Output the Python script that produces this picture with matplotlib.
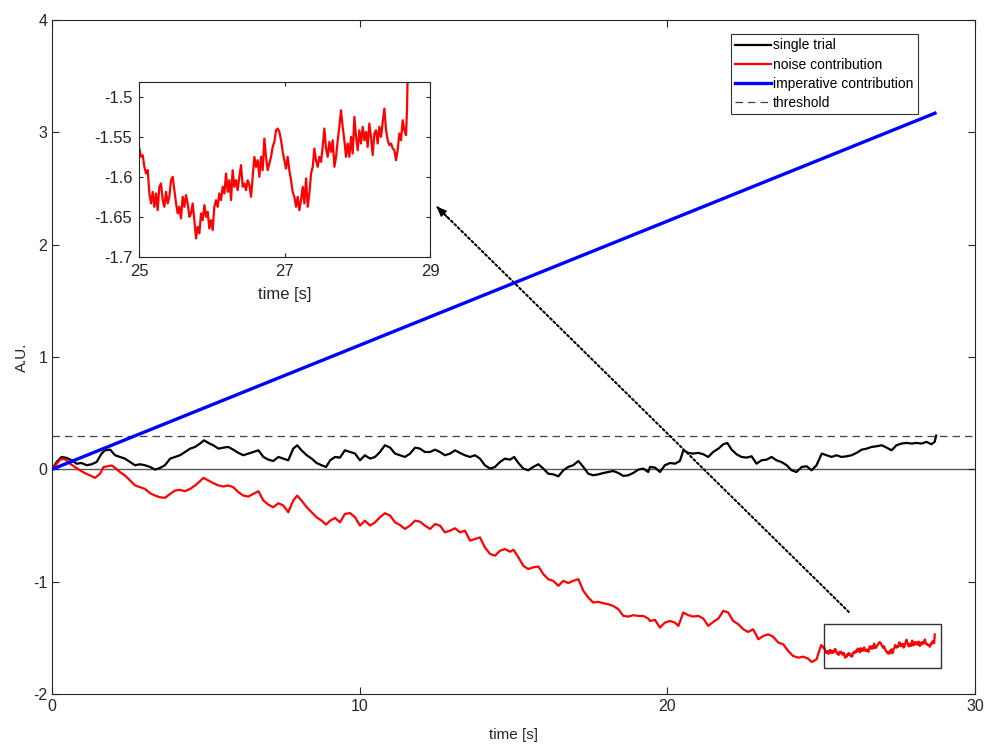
import numpy as np
import matplotlib
matplotlib.use("Agg")
import matplotlib.pyplot as plt
from matplotlib.patches import Rectangle

plt.rcParams['font.family'] = ['Liberation Sans', 'DejaVu Sans']
plt.rcParams['axes.unicode_minus'] = False

# single trial (black)
trial_t = [0.00, 0.15, 0.31, 0.48, 0.64, 0.80, 0.96, 1.13, 1.29, 1.45, 1.61, 1.72, 1.89, 2.05, 2.21,
           2.37, 2.54, 2.70, 2.86, 3.02, 3.19, 3.35, 3.51, 3.67, 3.84, 4.00, 4.16, 4.32, 4.49, 4.65,
           4.81, 4.94, 5.08, 5.24, 5.41, 5.57, 5.73, 5.89, 6.06, 6.22, 6.38, 6.54, 6.71, 6.87, 7.03,
           7.19, 7.36, 7.52, 7.68, 7.84, 7.97, 8.11, 8.28, 8.44, 8.60, 8.76, 8.91, 9.04, 9.20, 9.36,
           9.52, 9.69, 9.85, 10.01, 10.17, 10.34, 10.50, 10.66, 10.82, 10.99, 11.15, 11.31, 11.47,
           11.64, 11.80, 11.96, 12.12, 12.29, 12.45, 12.61, 12.77, 12.94, 13.10, 13.26, 13.42, 13.59,
           13.75, 13.91, 14.07, 14.24, 14.40, 14.56, 14.72, 14.89, 15.02, 15.16, 15.32, 15.48, 15.64,
           15.81, 15.97, 16.13, 16.29, 16.46, 16.62, 16.78, 16.94, 17.11, 17.27, 17.43, 17.59, 17.76,
           17.92, 18.08, 18.24, 18.41, 18.57, 18.73, 18.89, 19.06, 19.22, 19.38, 19.44, 19.60, 19.76,
           19.92, 20.09, 20.25, 20.41, 20.52, 20.68, 20.84, 21.01, 21.17, 21.33, 21.49, 21.66, 21.82,
           21.95, 22.09, 22.25, 22.41, 22.58, 22.74, 22.90, 23.06, 23.23, 23.39, 23.55, 23.71, 23.88,
           24.04, 24.20, 24.37, 24.53, 24.69, 24.85, 25.02, 25.18, 25.34, 25.50, 25.66, 25.83, 25.99,
           26.15, 26.32, 26.48, 26.64, 26.80, 26.97, 27.13, 27.29, 27.45, 27.61, 27.78, 27.94, 28.10,
           28.26, 28.43, 28.58, 28.69, 28.74]
trial_v = [0.000, 0.065, 0.110, 0.101, 0.080, 0.050, 0.056, 0.036, 0.045, 0.065, 0.140, 0.169, 0.175,
           0.125, 0.110, 0.095, 0.065, 0.036, 0.045, 0.036, 0.021, -0.003, 0.012, 0.036, 0.095, 0.110,
           0.125, 0.154, 0.184, 0.199, 0.229, 0.258, 0.235, 0.214, 0.184, 0.193, 0.199, 0.175, 0.146,
           0.125, 0.140, 0.154, 0.169, 0.110, 0.086, 0.074, 0.110, 0.095, 0.080, 0.184, 0.214, 0.169,
           0.125, 0.095, 0.056, 0.036, 0.021, 0.080, 0.110, 0.104, 0.169, 0.154, 0.140, 0.080, 0.125,
           0.095, 0.110, 0.154, 0.214, 0.193, 0.140, 0.125, 0.110, 0.140, 0.193, 0.184, 0.154, 0.154,
           0.175, 0.154, 0.125, 0.140, 0.169, 0.146, 0.125, 0.110, 0.125, 0.095, 0.036, 0.006, 0.021,
           0.065, 0.095, 0.086, 0.110, 0.056, 0.006, -0.009, 0.021, 0.045, 0.006, -0.039, -0.045,
           -0.062, -0.009, 0.021, 0.036, 0.074, 0.021, -0.039, -0.053, -0.045, -0.033, -0.024, -0.015,
           -0.033, -0.059, -0.053, -0.033, -0.003, 0.006, -0.024, 0.021, 0.015, -0.024, 0.036, 0.056,
           0.050, 0.074, 0.169, 0.146, 0.140, 0.146, 0.134, 0.110, 0.154, 0.184, 0.223, 0.235, 0.175,
           0.134, 0.110, 0.104, 0.116, 0.050, 0.080, 0.086, 0.110, 0.080, 0.065, 0.036, -0.009, -0.024,
           0.021, 0.027, -0.009, 0.036, 0.140, 0.125, 0.110, 0.125, 0.110, 0.116, 0.125, 0.146, 0.175,
           0.184, 0.199, 0.205, 0.214, 0.193, 0.169, 0.214, 0.229, 0.235, 0.229, 0.235, 0.229, 0.244,
           0.223, 0.244, 0.300]

# noise contribution (red) up to t = 25
noise_t = [0.00, 0.15, 0.26, 0.37, 0.48, 0.59, 0.75, 0.91, 1.07, 1.24, 1.40, 1.56, 1.67, 1.78, 1.94,
           2.05, 2.21, 2.37, 2.54, 2.70, 2.86, 3.02, 3.19, 3.35, 3.51, 3.67, 3.84, 4.00, 4.16, 4.32,
           4.49, 4.65, 4.81, 4.92, 5.08, 5.24, 5.41, 5.57, 5.73, 5.89, 6.06, 6.22, 6.38, 6.54, 6.71,
           6.87, 7.03, 7.19, 7.36, 7.52, 7.68, 7.84, 7.97, 8.11, 8.28, 8.44, 8.60, 8.76, 8.91, 9.04,
           9.20, 9.36, 9.52, 9.69, 9.85, 10.01, 10.17, 10.34, 10.50, 10.66, 10.82, 10.99, 11.15, 11.31,
           11.47, 11.64, 11.80, 11.96, 12.12, 12.29, 12.45, 12.61, 12.77, 12.94, 13.10, 13.26, 13.42,
           13.59, 13.75, 13.91, 14.07, 14.24, 14.40, 14.56, 14.72, 14.89, 15.00, 15.16, 15.32, 15.48,
           15.64, 15.81, 15.97, 16.13, 16.29, 16.46, 16.62, 16.78, 16.94, 17.11, 17.27, 17.43, 17.59,
           17.76, 17.92, 18.08, 18.24, 18.41, 18.57, 18.73, 18.89, 19.06, 19.22, 19.38, 19.44, 19.60,
           19.76, 19.92, 20.09, 20.25, 20.36, 20.52, 20.68, 20.84, 21.01, 21.17, 21.33, 21.49, 21.66,
           21.82, 21.98, 22.14, 22.31, 22.47, 22.63, 22.79, 22.96, 23.12, 23.28, 23.44, 23.61, 23.77,
           23.93, 24.09, 24.26, 24.42, 24.58, 24.69, 24.85]
noise_v = [0.004, 0.049, 0.085, 0.094, 0.079, 0.049, 0.019, -0.010, -0.034, -0.055, -0.076, -0.040,
           0.019, 0.025, 0.034, 0.013, -0.025, -0.055, -0.100, -0.144, -0.159, -0.174, -0.213, -0.234,
           -0.249, -0.254, -0.219, -0.189, -0.183, -0.195, -0.174, -0.144, -0.106, -0.076, -0.100,
           -0.123, -0.144, -0.153, -0.144, -0.159, -0.204, -0.234, -0.243, -0.219, -0.195, -0.278,
           -0.314, -0.338, -0.302, -0.323, -0.382, -0.278, -0.234, -0.278, -0.338, -0.382, -0.427,
           -0.457, -0.492, -0.457, -0.433, -0.472, -0.397, -0.390, -0.427, -0.501, -0.457, -0.501,
           -0.472, -0.427, -0.391, -0.412, -0.472, -0.496, -0.531, -0.501, -0.457, -0.466, -0.501,
           -0.531, -0.487, -0.501, -0.561, -0.546, -0.525, -0.561, -0.546, -0.635, -0.620, -0.606,
           -0.695, -0.754, -0.769, -0.725, -0.710, -0.734, -0.716, -0.784, -0.859, -0.888, -0.873,
           -0.865, -0.933, -0.978, -0.993, -1.037, -0.993, -1.013, -0.993, -0.978, -1.082, -1.141,
           -1.186, -1.180, -1.192, -1.201, -1.216, -1.246, -1.305, -1.311, -1.299, -1.305, -1.305,
           -1.329, -1.350, -1.341, -1.409, -1.365, -1.350, -1.365, -1.394, -1.275, -1.299, -1.311,
           -1.305, -1.329, -1.394, -1.359, -1.329, -1.260, -1.275, -1.350, -1.380, -1.424, -1.448,
           -1.424, -1.513, -1.484, -1.469, -1.490, -1.543, -1.558, -1.618, -1.662, -1.677, -1.668,
           -1.686, -1.716, -1.692]

# noise contribution from t = 25 on (even steps in time)
zoom_v = [-1.5646, -1.5750, -1.5729, -1.5875, -1.5958, -1.5917, -1.6208, -1.6333, -1.6188, -1.6375,
          -1.6208, -1.6417, -1.6125, -1.6083, -1.6292, -1.6375, -1.6188, -1.6333, -1.6250, -1.6042,
          -1.6000, -1.6167, -1.6333, -1.6458, -1.6375, -1.6521, -1.6250, -1.6375, -1.6229, -1.6333,
          -1.6500, -1.6458, -1.6333, -1.6542, -1.6771, -1.6625, -1.6708, -1.6458, -1.6542, -1.6354,
          -1.6500, -1.6438, -1.6646, -1.6542, -1.6667, -1.6375, -1.6292, -1.6375, -1.6208, -1.6292,
          -1.6125, -1.6208, -1.5958, -1.6188, -1.6042, -1.6292, -1.5917, -1.6125, -1.6042, -1.6167,
          -1.6000, -1.5854, -1.6125, -1.6083, -1.6167, -1.6042, -1.6104, -1.6250, -1.6000, -1.5750,
          -1.5875, -1.5792, -1.6000, -1.5750, -1.5917, -1.5521, -1.5750, -1.5917, -1.5833, -1.5750,
          -1.5625, -1.5563, -1.5417, -1.5396, -1.5438, -1.5542, -1.5688, -1.5792, -1.5896, -1.5750,
          -1.5917, -1.6042, -1.6188, -1.6250, -1.6375, -1.6250, -1.6417, -1.6292, -1.6125, -1.6333,
          -1.6021, -1.6375, -1.6208, -1.5958, -1.5875, -1.5646, -1.5792, -1.5875, -1.5750, -1.5813,
          -1.5625, -1.5396, -1.5646, -1.5750, -1.5563, -1.5688, -1.5542, -1.5875, -1.5750, -1.5542,
          -1.5375, -1.5167, -1.5375, -1.5542, -1.5750, -1.5583, -1.5750, -1.5500, -1.5708, -1.5250,
          -1.5500, -1.5667, -1.5417, -1.5583, -1.5375, -1.5542, -1.5438, -1.5625, -1.5333, -1.5500,
          -1.5729, -1.5458, -1.5417, -1.5583, -1.5375, -1.5500, -1.5313, -1.5146, -1.5417, -1.5542,
          -1.5604, -1.5583, -1.5646, -1.5667, -1.5792, -1.5667, -1.5458, -1.5542, -1.5292, -1.5417,
          -1.5479]
zoom_t = list(np.round(np.linspace(25.0, 28.67, len(zoom_v)), 3))
end_t = [28.683, 28.693]
end_v = [-1.5167, -1.47]

# imperative contribution (blue) and threshold
imp_t = [0.0, 28.7]
imp_v = [0.0, 3.17]
threshold = 0.3

full_t = noise_t + zoom_t + end_t
full_v = noise_v + zoom_v + end_v
inset_t = zoom_t + end_t
inset_v = zoom_v + end_v

edge = '0.15'
fig = plt.figure(figsize=(9.89, 7.45), dpi=100)
ax = fig.add_axes([0.0526, 0.0685, 0.9332, 0.9047])

ax.axhline(0, color='0.35', lw=1.0, zorder=1)
h_thr = ax.axhline(threshold, color='0.25', lw=0.9, ls=(0, (6, 4)), zorder=1)
h_trial, = ax.plot(trial_t, trial_v, color='k', lw=1.6, zorder=3)
h_noise, = ax.plot(full_t, full_v, color='r', lw=1.6, zorder=3)
h_imp, = ax.plot(imp_t, imp_v, color='b', lw=2.4, zorder=4)

ax.add_patch(Rectangle((25.1, -1.77), 3.8, 0.395, fill=False, ec='0.2', lw=1.0, zorder=5))
ax.annotate('', xy=(12.5, 2.34), xytext=(25.9, -1.27),
            arrowprops=dict(arrowstyle='-', ls=(0, (1, 1.3)), lw=1.5, color='k', shrinkA=0, shrinkB=0))
ax.annotate('', xy=(12.5, 2.34), xytext=(12.9, 2.23),
            arrowprops=dict(arrowstyle='-|>,head_length=0.6,head_width=0.25', lw=1.0, color='k',
                            shrinkA=0, shrinkB=0))

ax.set_xlim(0, 30)
ax.set_ylim(-2, 4)
ax.set_xticks([0, 10, 20, 30])
ax.set_yticks([-2, -1, 0, 1, 2, 3, 4])
ax.tick_params(direction='in', top=True, right=True, labelsize=11.5, colors=edge, length=5)
for s in ax.spines.values():
    s.set_color(edge)
    s.set_linewidth(0.8)
ax.set_xlabel('time [s]', fontsize=11, color=edge, labelpad=10)
ax.set_ylabel('A.U.', fontsize=11, color=edge, labelpad=3)

leg = ax.legend([h_trial, h_noise, h_imp, h_thr],
                ['single trial', 'noise contribution', 'imperative contribution', 'threshold'],
                loc='upper right', bbox_to_anchor=(0.928, 0.954), bbox_transform=fig.transFigure,
                fontsize=10, fancybox=False, framealpha=1, edgecolor='0.2', borderaxespad=0,
                handlelength=2.6, handletextpad=0.15, labelspacing=0.38, borderpad=0.3)
leg.get_frame().set_linewidth(0.8)

# zoomed inset
axi = fig.add_axes([0.1409, 0.6554, 0.2939, 0.2349])
axi.plot(inset_t, inset_v, color='r', lw=1.6)
axi.set_xlim(25, 29)
axi.set_ylim(-1.7, -1.481)
axi.set_xticks([25, 27, 29])
axi.set_yticks([-1.7, -1.65, -1.6, -1.55, -1.5])
axi.set_yticklabels(['-1.7', '-1.65', '-1.6', '-1.55', '-1.5'])
axi.tick_params(direction='in', top=True, right=True, labelsize=12, colors=edge, length=3, pad=5)
for s in axi.spines.values():
    s.set_color(edge)
    s.set_linewidth(0.8)
axi.set_xlabel('time [s]', fontsize=12, color=edge, labelpad=6)

fig.savefig('out.png', dpi=100)
